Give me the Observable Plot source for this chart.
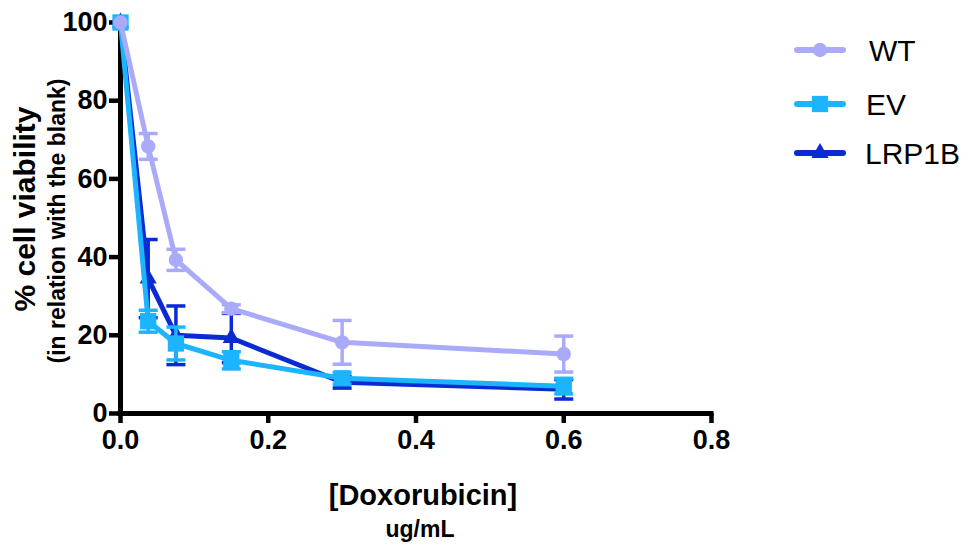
<!DOCTYPE html>
<html>
<head>
<meta charset="utf-8">
<script src="https://cdn.jsdelivr.net/npm/d3@7"></script>
<script src="https://cdn.jsdelivr.net/npm/@observablehq/plot@0.6"></script>
<style>
  html, body { margin: 0; padding: 0; background: #fff; }
  #wrap { position: relative; width: 971px; height: 546px; }
  #legend { position: absolute; left: 0; top: 0; pointer-events: none; }
  text { font-family: "Liberation Sans", Arial, sans-serif; }
</style>
</head>
<body>
<div id="wrap"></div>
<script>
// ---- data ----
const doses = [0, 0.0375, 0.075, 0.15, 0.3, 0.6];
const seriesNames = ["WT", "EV", "LRP1B"];
const wtMean  = [100, 68.3, 39.3, 26.8, 18.2, 15.2];
const wtErr   = [0,   3.3,  2.7,  1.0,  5.6,  4.6];
const evMean  = [100, 23.6, 17.9, 13.6, 9.0,  7.0];
const evErr   = [0,   2.8,  4.2,  2.2,  1.5,  2.0];
const lrpMean = [100, 34.5, 20.0, 19.3, 8.0,  6.2];
const lrpErr  = [0,   10.0, 7.5,  6.3,  1.5,  2.5];
const xTicks = [0, 0.2, 0.4, 0.6, 0.8];
const yTicks = [0, 20, 40, 60, 80, 100];

const colors  = {WT: "#AAAAFA", EV: "#1CB4FF", LRP1B: "#0A2AD4"};
const symbols = {WT: "circle", EV: "square", LRP1B: "triangle"};
const radii   = {WT: 7.2, EV: 9.2, LRP1B: 6.4};
const means = {WT: wtMean, EV: evMean, LRP1B: lrpMean};
const errs  = {WT: wtErr, EV: evErr, LRP1B: lrpErr};

const rows = seriesNames.flatMap(name => doses.map((x, i) => ({
  name, x, y: means[name][i], lo: means[name][i] - errs[name][i], hi: means[name][i] + errs[name][i], err: errs[name][i]
})));

const cap = {
  draw(context, size) {
    const w = Math.sqrt(size / Math.PI);
    context.moveTo(-w, 0);
    context.lineTo(w, 0);
  }
};

const font = '"Liberation Sans", Arial, sans-serif';
const drawOrder = ["LRP1B", "EV", "WT"];
const seriesMarks = drawOrder.flatMap(name => {
  const d = rows.filter(r => r.name === name);
  const e = d.filter(r => r.err > 0);
  const c = colors[name];
  return [
    Plot.line(d, {x: "x", y: "y", stroke: c, strokeWidth: 5, strokeLinecap: "butt"}),
    Plot.ruleX(e, {x: "x", y1: "lo", y2: "hi", stroke: c, strokeWidth: 3.5}),
    Plot.dot(e, {x: "x", y: "hi", symbol: cap, r: 9.5, fill: "none", stroke: c, strokeWidth: 3.5}),
    Plot.dot(e, {x: "x", y: "lo", symbol: cap, r: 9.5, fill: "none", stroke: c, strokeWidth: 3.5}),
    Plot.dot(d, {x: "x", y: "y", symbol: symbols[name], r: radii[name], fill: c, stroke: "none"})
  ];
});

const chart = Plot.plot({
  width: 971,
  height: 546,
  marginLeft: 120,
  marginRight: 260,
  marginTop: 22,
  marginBottom: 133,
  style: {fontFamily: font, background: "#fff", overflow: "visible"},
  x: {domain: [0, 0.8]},
  y: {domain: [0, 100]},
  marks: [
    Plot.axisX(xTicks, {tickSize: 10, strokeWidth: 4.5, tickPadding: 6, tickFormat: d3.format(".1f"),
      fontSize: 27, fontWeight: "bold", fill: "#000", label: null}),
    Plot.axisY(yTicks, {tickSize: 11, strokeWidth: 4.5, tickPadding: 2, tickFormat: d3.format("d"),
      fontSize: 27, fontWeight: "bold", fill: "#000", label: null}),
    Plot.ruleY([0], {x1: 0, x2: 0.8, stroke: "#000", strokeWidth: 5, strokeLinecap: "square"}),
    Plot.ruleX([0], {y1: 0, y2: 100, stroke: "#000", strokeWidth: 5, strokeLinecap: "square"}),
    ...seriesMarks,
    Plot.text(["% cell viability"], {text: d => d, frameAnchor: "left", rotate: -90, textAnchor: "middle",
      lineAnchor: "middle", dx: -95, dy: -9, fontSize: 30, fontWeight: "bold", fill: "#000"}),
    Plot.text(["(in relation with the blank)"], {text: d => d, frameAnchor: "left", rotate: -90, textAnchor: "middle",
      lineAnchor: "middle", dx: -63, dy: 3, fontSize: 23, fontWeight: "bold", fill: "#000"}),
    Plot.text(["[Doxorubicin]"], {text: d => d, frameAnchor: "bottom", textAnchor: "middle",
      lineAnchor: "middle", dx: 7, dy: 82, fontSize: 29, fontWeight: "bold", fill: "#000"}),
    Plot.text(["ug/mL"], {text: d => d, frameAnchor: "bottom", textAnchor: "middle",
      lineAnchor: "middle", dx: 4, dy: 116, fontSize: 23, fontWeight: "bold", fill: "#000"})
  ]
});

const wrap = document.getElementById("wrap");
wrap.appendChild(chart);

// ---- legend ----
const legendY = {WT: 50, EV: 104, LRP1B: 153};
const legendTextX = {WT: 869, EV: 866, LRP1B: 865};
const svg = d3.select(wrap).append("svg").attr("id", "legend").attr("width", 971).attr("height", 546);
seriesNames.forEach(name => {
  const g = svg.append("g").attr("transform", `translate(0,${legendY[name]})`);
  g.append("line").attr("x1", 797).attr("x2", 843).attr("y1", 0).attr("y2", 0)
    .attr("stroke", colors[name]).attr("stroke-width", 6).attr("stroke-linecap", "round");
  const sym = {circle: d3.symbolCircle, square: d3.symbolSquare, triangle: d3.symbolTriangle}[symbols[name]];
  g.append("path").attr("transform", "translate(820,0)")
    .attr("d", d3.symbol(sym, radii[name] * radii[name] * Math.PI)())
    .attr("fill", colors[name]);
  g.append("text").attr("x", legendTextX[name]).attr("y", 0).attr("dy", "0.36em")
    .attr("font-size", 30).attr("fill", "#000").style("font-family", font).text(name);
});
</script>
</body>
</html>
